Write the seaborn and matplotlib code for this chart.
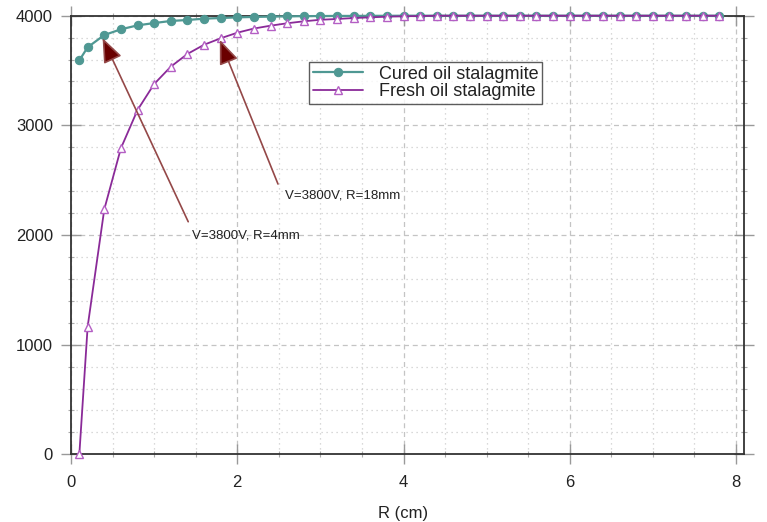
import numpy as np
import pandas as pd
import matplotlib
matplotlib.use("Agg")
import matplotlib.pyplot as plt
import seaborn as sns
from matplotlib.ticker import MultipleLocator

# ---- data ----
r_cm = [0.1, 0.2, 0.4, 0.6, 0.8, 1.0, 1.2, 1.4, 1.6, 1.8, 2.0,
        2.2, 2.4, 2.6, 2.8, 3.0, 3.2, 3.4, 3.6, 3.8, 4.0,
        4.2, 4.4, 4.6, 4.8, 5.0, 5.2, 5.4, 5.6, 5.8, 6.0,
        6.2, 6.4, 6.6, 6.8, 7.0, 7.2, 7.4, 7.6, 7.8]
cured_v = [3593, 3712, 3824, 3876, 3912, 3933, 3952, 3961, 3973, 3979, 3985,
           3989, 3992, 3994, 3996, 3997, 3998, 3998, 3999, 3999, 4000,
           4000, 4000, 4000, 4000, 4000, 4000, 4000, 4000, 4000, 4000,
           4000, 4000, 4000, 4000, 4000, 4000, 4000, 4000, 4000]
fresh_v = [0, 1164, 2234, 2791, 3140, 3377, 3535, 3651, 3735, 3794, 3845,
           3883, 3909, 3931, 3949, 3963, 3970, 3979, 3985, 3991, 3995,
           3997, 4000, 4000, 4000, 4000, 4000, 4000, 4000, 4000, 4000,
           4000, 4000, 4000, 4000, 4000, 4000, 4000, 4000, 4000]
series_names = ["Cured oil stalagmite", "Fresh oil stalagmite"]
annot_texts = ["V=3800V, R=4mm", "V=3800V, R=18mm"]
x_label = "R (cm)"

sns.set_style("white")
plt.rcParams["font.family"] = ["Liberation Sans", "DejaVu Sans"]

teal = "#4f9893"
purple_line = "#8a2a98"
purple_edge = "#b45fc4"

fig = plt.figure(figsize=(7.67, 5.22), dpi=100)
ax = fig.add_axes([0.0926, 0.1297, 0.8778, 0.8402])

df_c = pd.DataFrame({"R": r_cm, "V": cured_v})
df_f = pd.DataFrame({"R": r_cm, "V": fresh_v})

sns.lineplot(data=df_c, x="R", y="V", ax=ax, color=teal, marker="o",
             markersize=6, markeredgecolor=teal, markerfacecolor=teal,
             linewidth=1.6, label=series_names[0], clip_on=False, zorder=4)
sns.lineplot(data=df_f, x="R", y="V", ax=ax, color=purple_line, marker="^",
             markersize=6, markeredgecolor=purple_edge, markerfacecolor="white",
             markeredgewidth=1.0, linewidth=1.3, label=series_names[1],
             clip_on=False, zorder=5)

ax.set_xlim(0, 8.1)
ax.set_ylim(0, 4000)
ax.xaxis.set_major_locator(MultipleLocator(2))
ax.xaxis.set_minor_locator(MultipleLocator(0.5))
ax.yaxis.set_major_locator(MultipleLocator(1000))
ax.yaxis.set_minor_locator(MultipleLocator(200))

ax.grid(which="major", linestyle=(0, (4, 3)), color="#c4c4c4", linewidth=0.9)
ax.grid(which="minor", linestyle=(0, (1, 3)), color="#cdcdcd", linewidth=0.9)
ax.set_axisbelow(True)

for s in ax.spines.values():
    s.set_color("#333333")
    s.set_linewidth(1.3)
    s.set_visible(True)

ax.tick_params(which="major", direction="inout", length=15, width=1.0,
               color="#999999", top=True, right=True, bottom=True, left=True,
               labelsize=12, labelcolor="#222222")
ax.tick_params(which="minor", direction="inout", length=5, width=0.8,
               color="#aaaaaa", top=True, right=True, bottom=True, left=True)
ax.tick_params(axis="x", which="major", pad=7.5)
ax.tick_params(axis="y", which="major", pad=5.5)

ax.set_xlabel(x_label, fontsize=12, color="#222222", labelpad=8)
ax.xaxis.set_label_coords(0.493, -0.118)
ax.set_ylabel("")

leg = ax.legend(loc="upper left", bbox_to_anchor=(0.3535, 0.895),
                borderaxespad=0, fontsize=13, handlelength=2.75,
                handletextpad=0.9, labelspacing=0.02, borderpad=0.22,
                frameon=True, fancybox=False, edgecolor="#333333")
leg.get_frame().set_linewidth(1.0)
for t in leg.get_texts():
    t.set_color("#222222")

arrow_kw = dict(arrowstyle="-|>,head_length=1.5,head_width=0.6",
                mutation_scale=10, ec="#944848", fc="#6a0000",
                linewidth=1.2, shrinkA=0, shrinkB=0)
ax.annotate("", xy=(0.38, 3795), xytext=(1.41, 2121), arrowprops=arrow_kw,
            zorder=6)
ax.annotate("", xy=(1.79, 3780), xytext=(2.49, 2465), arrowprops=arrow_kw,
            zorder=6)
ax.text(1.45, 2000, annot_texts[0], fontsize=9.5, ha="left", va="center",
        color="#222222")
ax.text(2.57, 2358, annot_texts[1], fontsize=9.5, ha="left", va="center",
        color="#222222")

fig.savefig("out.png", dpi=100)
